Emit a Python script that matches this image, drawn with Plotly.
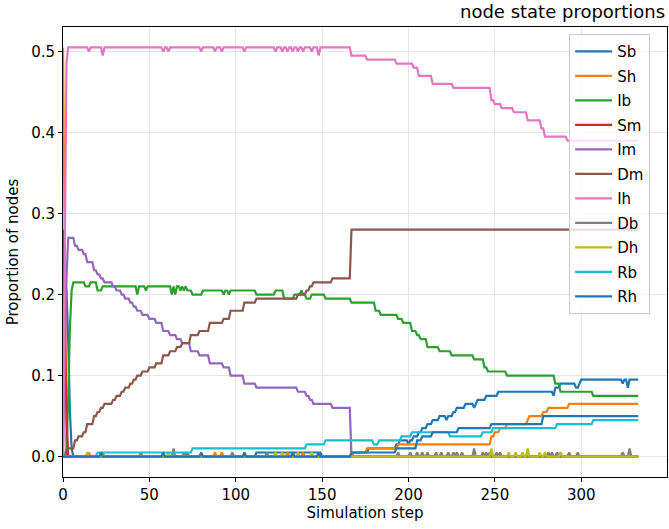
import numpy as np
import plotly.graph_objects as go

N_STEPS = 334
steps = list(range(N_STEPS))

labels = ["Sb", "Sh", "Ib", "Sm", "Im", "Dm", "Ih", "Db", "Dh", "Rb", "Rh"]
colors = ["#1f77b4", "#ff7f0e", "#2ca02c", "#d62728", "#9467bd", "#8c564b",
          "#e377c2", "#7f7f7f", "#bcbd22", "#17becf", "#1f77b4"]

# (step where value starts, value)
sb_changes = [(0, 0.215), (2, 0.205), (3, 0.145), (4, 0.055), (5, 0.01), (6, 0.0),
              (112, 0.005), (150, 0.0), (168, 0.005), (177, 0.01), (193, 0.015),
              (195, 0.02), (200, 0.015), (201, 0.02), (203, 0.025), (206, 0.03),
              (208, 0.035), (211, 0.04), (214, 0.045), (218, 0.05), (222, 0.045),
              (223, 0.05), (226, 0.055), (228, 0.06), (233, 0.065), (238, 0.06),
              (239, 0.065), (240, 0.07), (245, 0.075), (252, 0.08), (284, 0.075),
              (285, 0.085), (288, 0.09), (297, 0.085), (299, 0.09), (300, 0.095),
              (324, 0.09), (325, 0.095), (327, 0.085), (328, 0.095)]
sh_changes = [(0, 0.505), (1, 0.25), (2, 0.02), (3, 0.0), (168, 0.005), (176, 0.01),
              (194, 0.015), (248, 0.025), (250, 0.03), (253, 0.035), (257, 0.04),
              (269, 0.045), (270, 0.05), (278, 0.055), (281, 0.06), (293, 0.065)]
sh_spikes = [(15, 0.005), (23, 0.005), (88, 0.005), (92, 0.005), (130, 0.005), (139, 0.005)]
ib_changes = [(0, 0.0), (2, 0.01), (3, 0.07), (4, 0.16), (5, 0.205), (6, 0.215),
              (13, 0.21), (16, 0.215), (20, 0.205), (23, 0.21), (43, 0.2), (44, 0.21),
              (48, 0.205), (49, 0.21), (63, 0.2), (64, 0.21), (65, 0.2), (66, 0.21),
              (68, 0.205), (69, 0.21), (70, 0.205), (71, 0.21), (72, 0.205), (75, 0.2),
              (81, 0.205), (93, 0.2), (94, 0.205), (96, 0.2), (97, 0.205), (112, 0.2),
              (123, 0.205), (128, 0.195), (134, 0.2), (138, 0.205), (139, 0.2),
              (141, 0.195), (144, 0.2), (152, 0.195), (167, 0.19), (181, 0.18),
              (184, 0.175), (194, 0.17), (197, 0.165), (202, 0.155), (205, 0.15),
              (207, 0.145), (211, 0.135), (218, 0.13), (225, 0.125), (238, 0.12),
              (244, 0.11), (246, 0.105), (257, 0.1), (285, 0.09), (288, 0.08), (307, 0.075)]
sm_changes = [(0, 0.28), (1, 0.18), (2, 0.055), (3, 0.0)]
im_changes = [(0, 0.0), (1, 0.1), (2, 0.22), (3, 0.27), (7, 0.26), (9, 0.255), (12, 0.25),
              (14, 0.24), (18, 0.23), (20, 0.225), (22, 0.22), (24, 0.215), (29, 0.21),
              (31, 0.205), (34, 0.2), (36, 0.195), (39, 0.19), (41, 0.185), (43, 0.18),
              (46, 0.175), (50, 0.17), (54, 0.165), (58, 0.155), (62, 0.15), (66, 0.145),
              (69, 0.14), (74, 0.13), (79, 0.125), (85, 0.115), (93, 0.11), (97, 0.1),
              (105, 0.09), (112, 0.085), (136, 0.08), (141, 0.075), (143, 0.07),
              (145, 0.065), (156, 0.06), (167, 0.0)]
dm_changes = [(0, 0.0), (2, 0.005), (3, 0.01), (7, 0.02), (9, 0.025), (12, 0.03),
              (14, 0.04), (18, 0.05), (20, 0.055), (22, 0.06), (24, 0.065), (29, 0.07),
              (31, 0.075), (34, 0.08), (36, 0.085), (39, 0.09), (41, 0.095), (43, 0.1),
              (46, 0.105), (50, 0.11), (54, 0.115), (58, 0.125), (62, 0.13), (66, 0.135),
              (69, 0.14), (74, 0.15), (79, 0.155), (85, 0.165), (93, 0.17), (97, 0.18),
              (105, 0.19), (112, 0.195), (136, 0.2), (141, 0.205), (143, 0.21),
              (145, 0.215), (156, 0.22), (167, 0.28)]
ih_changes = [(0, 0.0), (1, 0.25), (2, 0.485), (3, 0.505), (167, 0.495), (176, 0.49),
              (193, 0.485), (203, 0.48), (206, 0.47), (214, 0.46), (226, 0.455),
              (248, 0.44), (250, 0.435), (254, 0.43), (261, 0.425), (269, 0.415),
              (277, 0.405), (279, 0.395), (292, 0.39)]
ih_spikes = [(15, -0.005), (23, -0.01), (58, -0.005), (61, -0.005), (80, -0.005),
             (88, -0.005), (92, -0.005), (105, -0.005), (123, -0.005), (127, -0.005),
             (130, -0.005), (133, -0.005), (136, -0.005), (139, -0.005), (144, -0.005),
             (148, -0.01)]
db_spikes = [(45, 0.005), (64, 0.01), (70, 0.005), (72, 0.005), (98, 0.005), (118, 0.005),
             (194, 0.005), (201, 0.005), (205, 0.005), (208, 0.005), (211, 0.005),
             (216, 0.005), (219, 0.005), (223, 0.005), (226, 0.005), (228, 0.005),
             (231, 0.005), (238, 0.01), (243, 0.005), (245, 0.005), (247, 0.005),
             (251, 0.005), (253, 0.005), (281, 0.005), (283, 0.005), (286, 0.005),
             (288, 0.005), (293, 0.005), (298, 0.005), (324, 0.005), (328, 0.01)]
dh_spikes = [(14, 0.005), (61, 0.005), (123, 0.005), (127, 0.005), (136, 0.005),
             (144, 0.005), (248, 0.01), (258, 0.005), (262, 0.005), (266, 0.005),
             (269, 0.01), (276, 0.005), (279, 0.005), (288, 0.005)]
rb_changes = [(0, 0.0), (20, 0.005), (75, 0.01), (141, 0.015), (152, 0.02), (180, 0.015),
              (183, 0.02), (196, 0.025), (202, 0.03), (224, 0.025), (243, 0.03),
              (249, 0.035), (286, 0.04), (307, 0.045)]
rh_changes = [(0, 0.0), (167, 0.005), (193, 0.01), (205, 0.02), (208, 0.025), (214, 0.03),
              (229, 0.035), (248, 0.04), (278, 0.05)]
rh_spikes = [(22, 0.005), (58, 0.005), (80, 0.005), (105, 0.005), (133, 0.005), (148, 0.005)]


def expand(changes=(), spikes=()):
    arr = np.zeros(N_STEPS)
    for s, v in changes:
        arr[s:] = v
    for s, v in spikes:
        arr[s] += v
    return arr


series = {
    "Sb": expand(sb_changes),
    "Sh": expand(sh_changes, sh_spikes),
    "Ib": expand(ib_changes),
    "Sm": expand(sm_changes),
    "Im": expand(im_changes),
    "Dm": expand(dm_changes),
    "Ih": expand(ih_changes, ih_spikes),
    "Db": expand((), db_spikes),
    "Dh": expand((), dh_spikes),
    "Rb": expand(rb_changes),
    "Rh": expand(rh_changes, rh_spikes),
}

FONT = "DejaVu Sans"
fig = go.Figure()
for name, col in zip(labels, colors):
    fig.add_trace(go.Scatter(x=steps, y=series[name], mode="lines", name=name,
                             line=dict(color=col, width=2.2), legendgroup=name))

axis_common = dict(showline=True, linecolor="black", linewidth=1, mirror=True,
                   ticks="outside", ticklen=4, tickwidth=1, tickcolor="black",
                   showgrid=True, gridcolor="#e6e6e6", gridwidth=1, zeroline=False,
                   tickfont=dict(family=FONT, size=15, color="black"))

fig.update_layout(
    width=669, height=529,
    margin=dict(l=63, r=2, t=27, b=52),
    paper_bgcolor="white", plot_bgcolor="white",
    font=dict(family=FONT, size=15, color="black"),
    xaxis=dict(range=[0, 349.65], tickvals=[0, 50, 100, 150, 200, 250, 300],
               title=dict(text="Simulation step", font=dict(size=15), standoff=4),
               **axis_common),
    yaxis=dict(range=[-0.02525, 0.53025], tickvals=[0, 0.1, 0.2, 0.3, 0.4, 0.5],
               tickformat=".1f",
               title=dict(text="Proportion of nodes", font=dict(size=15), standoff=8),
               **axis_common),
    legend=dict(x=0.838, y=0.984, xanchor="left", yanchor="top",
                bgcolor="rgba(255,255,255,0.8)", bordercolor="#cccccc", borderwidth=1,
                font=dict(family=FONT, size=15), itemwidth=37, tracegroupgap=2),
    annotations=[dict(text="node state proportions", xref="paper", yref="paper",
                      x=1, y=1, xanchor="right", yanchor="bottom", yshift=3,
                      showarrow=False, font=dict(family=FONT, size=18, color="black"))],
    showlegend=True,
)

fig.write_html("out.html")
